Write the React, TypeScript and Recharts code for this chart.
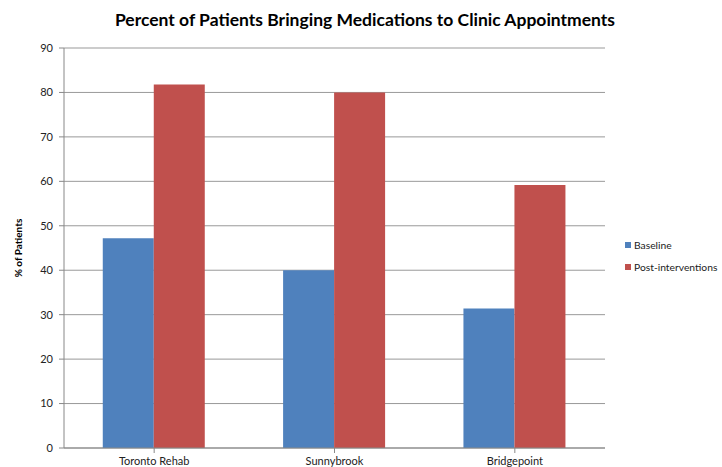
import { BarChart, Bar, XAxis, YAxis, CartesianGrid, Label } from "recharts";

const categories = ["Toronto Rehab", "Sunnybrook", "Bridgepoint"];
const baseline = [47.2, 40, 31.4];
const postInterventions = [81.8, 80, 59.2];
const yTicks = [0, 10, 20, 30, 40, 50, 60, 70, 80, 90];

const data = categories.map((name, i) => ({
  name,
  baseline: baseline[i],
  post: postInterventions[i],
}));

const FONT = "Lato, 'Open Sans', sans-serif";

const legendItems = [
  { label: "Baseline", color: "#4F81BD" },
  { label: "Post-interventions", color: "#C0504D" },
];

export default function App() {
  return (
    <div style={{ position: "absolute", left: 0, top: 0, width: 722, height: 467, background: "#fff", overflow: "hidden" }}>
      <div
        style={{
          position: "absolute",
          top: 9,
          left: 0,
          width: 730,
          textAlign: "center",
          fontFamily: FONT,
          fontWeight: 700,
          fontSize: 17.5,
          color: "#000",
        }}
      >
        Percent of Patients Bringing Medications to Clinic Appointments
      </div>
      <BarChart
        width={722}
        height={467}
        data={data}
        margin={{ top: 48, right: 117, bottom: 0, left: 0 }}
        barCategoryGap="21.5%"
        barGap={0}
      >
        <CartesianGrid vertical={false} stroke="#999" />
        <XAxis
          dataKey="name"
          height={19}
          stroke="#888"
          tickSize={5}
          tickMargin={4}
          tick={{ fill: "#222", fontSize: 11, fontFamily: FONT }}
        />
        <YAxis
          width={64}
          domain={[0, 90]}
          ticks={yTicks}
          stroke="#888"
          tickSize={5}
          tickMargin={6}
          tick={{ fill: "#222", fontSize: 11, fontFamily: FONT }}
        >
          <Label
            value="% of Patients"
            angle={-90}
            position="insideLeft"
            offset={18}
            style={{ textAnchor: "middle", fontSize: 10, fontWeight: 700, fontFamily: FONT, fill: "#000" }}
          />
        </YAxis>
        <Bar dataKey="baseline" name="Baseline" fill="#4F81BD" isAnimationActive={false} />
        <Bar dataKey="post" name="Post-interventions" fill="#C0504D" isAnimationActive={false} />
      </BarChart>
      <div style={{ position: "absolute", left: 625, top: 234, fontFamily: FONT, fontSize: 10.3, color: "#222", whiteSpace: "nowrap" }}>
        {legendItems.map((it) => (
          <div key={it.label} style={{ display: "flex", alignItems: "center", height: 22 }}>
            <span style={{ width: 6, height: 6, background: it.color, marginRight: 3 }} />
            {it.label}
          </div>
        ))}
      </div>
    </div>
  );
}
